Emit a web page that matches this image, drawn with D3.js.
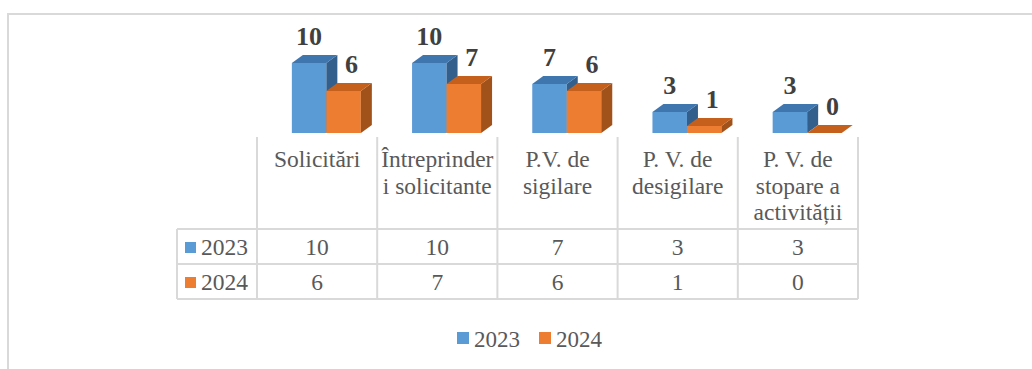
<!DOCTYPE html>
<html>
<head>
<meta charset="utf-8">
<script src="https://cdn.jsdelivr.net/npm/d3@7"></script>
<style>
  html, body { margin: 0; padding: 0; background: #fff; }
  svg { display: block; }
</style>
</head>
<body>
<svg id="chart" width="1032" height="369"></svg>
<script>
// Categories, series and values
const categories = [
  "Solicitări",
  "Întreprinderi solicitante",
  "P.V. de sigilare",
  "P. V. de desigilare",
  "P. V. de stopare a activității"
];
const seriesNames = ["2023", "2024"];
const values2023 = [10, 10, 7, 3, 3];
const values2024 = [6, 7, 6, 1, 0];
const valueDomain = [0, 10];

const seriesValues = [values2023, values2024];
const colors = {
  "2023": { front: "#5b9bd5", top: "#3f76ae", side: "#325f8c" },
  "2024": { front: "#ed7d31", top: "#c5601c", side: "#a1521b" }
};

const FONT = '"Liberation Serif"';
const svg = d3.select("#chart").style("font-family", FONT);
const W = 1032, H = 369;
const gridColor = "#d9d9d9";
const textColor = "#595959";

function addText(parent) {
  return parent.append("text").style("font-family", FONT);
}

// Outer chart border (continues past the visible area)
svg.append("path")
  .attr("d", `M8,${H + 5} L8,14 L${W + 5},14`)
  .attr("fill", "none")
  .attr("stroke", gridColor)
  .attr("stroke-width", 2);

// Layout
const tableLeft = 177, plotLeft = 257, plotRight = 858;
const floorY = 133, topY = 63;
const headerTop = 137, row1Top = 229, rowH = 35;
const depthX = 11, depthY = 8;

const x = d3.scaleBand().domain(categories).range([plotLeft, plotRight]);
const y = d3.scaleLinear().domain(valueDomain).range([floorY, topY]);
const sub = d3.scaleBand().domain(seriesNames)
  .range([x.bandwidth() * 0.29, x.bandwidth() * 0.29 + 69]);

// 3D bars
const bars = svg.append("g");
categories.forEach((cat, ci) => {
  seriesNames.forEach((s, si) => {
    const v = seriesValues[si][ci];
    const x0 = x(cat) + sub(s), x1 = x0 + sub.bandwidth();
    const yt = y(v), yb = y(0);
    const c = colors[s];
    const g = bars.append("g");
    // front
    g.append("rect").attr("x", x0).attr("y", yt)
      .attr("width", x1 - x0).attr("height", yb - yt).attr("fill", c.front);
    // side
    g.append("path")
      .attr("d", `M${x1},${yt} L${x1 + depthX},${yt - depthY} L${x1 + depthX},${yb - depthY} L${x1},${yb} Z`)
      .attr("fill", c.side);
    // top
    g.append("path")
      .attr("d", `M${x0},${yt} L${x0 + depthX},${yt - depthY} L${x1 + depthX},${yt - depthY} L${x1},${yt} Z`)
      .attr("fill", c.top);
  });
});

// Data labels above each bar
categories.forEach((cat, ci) => {
  seriesNames.forEach((s, si) => {
    const v = seriesValues[si][ci];
    const x0 = x(cat) + sub(s);
    const cx = x0 + sub.bandwidth() / 2 + (si === 1 ? 8 : 0);
    addText(svg)
      .attr("x", cx)
      .attr("y", y(v) - depthY - 10)
      .attr("text-anchor", "middle")
      .attr("font-size", 26)
      .attr("font-weight", "bold")
      .attr("fill", "#404040")
      .text(v);
  });
});

// Data table grid
const grid = svg.append("g").attr("stroke", gridColor).attr("stroke-width", 2);
const tableBottom = row1Top + rowH * seriesNames.length;
// vertical lines at category boundaries
categories.forEach(cat => {
  grid.append("line").attr("x1", x(cat)).attr("x2", x(cat))
    .attr("y1", headerTop).attr("y2", tableBottom);
});
grid.append("line").attr("x1", plotRight).attr("x2", plotRight)
  .attr("y1", headerTop).attr("y2", tableBottom);
grid.append("line").attr("x1", tableLeft).attr("x2", tableLeft)
  .attr("y1", row1Top).attr("y2", tableBottom);
// horizontal lines
for (let r = 0; r <= seriesNames.length; r++) {
  const yy = row1Top + r * rowH;
  grid.append("line").attr("x1", tableLeft).attr("x2", plotRight)
    .attr("y1", yy).attr("y2", yy);
}

// Category headers, wrapped to the column width
const fontSize = 23.5;
const maxW = x.bandwidth() - 4;
const measurer = addText(svg).attr("font-size", fontSize).attr("visibility", "hidden");
function width(str) { measurer.text(str); return measurer.node().getComputedTextLength(); }
function wrap(label) {
  const words = label.split(" ");
  const lines = [];
  let cur = "";
  words.forEach(w => {
    const trial = cur ? cur + " " + w : w;
    if (width(trial) <= maxW) { cur = trial; return; }
    if (cur) lines.push(cur);
    // break words that are too long on their own
    let piece = "";
    for (const ch of w) {
      if (width(piece + ch) > maxW && piece) { lines.push(piece); piece = ch; }
      else piece += ch;
    }
    cur = piece;
  });
  if (cur) lines.push(cur);
  return lines;
}
categories.forEach(cat => {
  const t = addText(svg)
    .attr("text-anchor", "middle")
    .attr("font-size", fontSize)
    .attr("fill", textColor);
  wrap(cat).forEach((line, i) => {
    t.append("tspan").attr("x", x(cat) + x.bandwidth() / 2)
      .attr("y", 167 + i * 26.5).text(line);
  });
});
measurer.remove();

// Table rows: legend key, series name and values
seriesNames.forEach((s, si) => {
  const rowY = row1Top + si * rowH;
  const base = rowY + 26;
  svg.append("rect").attr("x", 185).attr("y", rowY + 13)
    .attr("width", 11).attr("height", 11).attr("fill", colors[s].front);
  addText(svg).attr("x", 201).attr("y", base)
    .attr("font-size", fontSize).attr("fill", textColor).text(s);
  categories.forEach((cat, ci) => {
    addText(svg)
      .attr("x", x(cat) + x.bandwidth() / 2).attr("y", base)
      .attr("text-anchor", "middle")
      .attr("font-size", fontSize).attr("fill", textColor)
      .text(seriesValues[si][ci]);
  });
});

// Legend
const legend = svg.append("g");
const legendX = d3.scaleOrdinal().domain(seriesNames).range([457, 539]);
seriesNames.forEach(s => {
  legend.append("rect").attr("x", legendX(s)).attr("y", 332)
    .attr("width", 12).attr("height", 12).attr("fill", colors[s].front);
  addText(legend).attr("x", legendX(s) + 17).attr("y", 347)
    .attr("font-size", 23).attr("fill", textColor).text(s);
});
</script>
</body>
</html>
